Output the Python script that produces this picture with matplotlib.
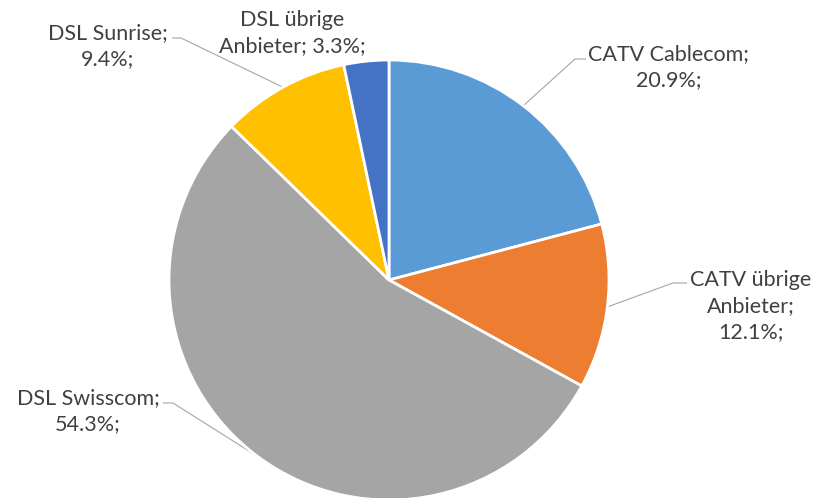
import numpy as np
import matplotlib
matplotlib.use("Agg")
import matplotlib.pyplot as plt

# ---- data ----
categories = ["CATV Cablecom", "CATV übrige\nAnbieter", "DSL Swisscom", "DSL Sunrise", "DSL übrige\nAnbieter"]
shares = [20.9, 12.1, 54.3, 9.4, 3.3]
colors = ["#5B9BD5", "#ED7D31", "#A5A5A5", "#FFC000", "#4472C4"]
label_texts = ["CATV Cablecom;\n20.9%;", "CATV übrige\nAnbieter;\n12.1%;",
               "DSL Swisscom;\n54.3%;", "DSL Sunrise;\n9.4%;", "DSL übrige\nAnbieter; 3.3%;"]

W, H = 817, 498
fig = plt.figure(figsize=(W / 100, H / 100), dpi=100)
ax = fig.add_axes([0, 0, 1, 1])

cx, cy, R = 389, H - 280, 220
wedges, _ = ax.pie(shares, colors=colors, startangle=90, counterclock=False,
                   center=(cx, cy), radius=R, frame=True,
                   wedgeprops=dict(edgecolor="white", linewidth=2))
ax.set_xlim(0, W)
ax.set_ylim(0, H)
ax.axis("off")

# layout: text centre (pixel coords, y down), elbow point, text-side end of horizontal stub
layout = [
    dict(pos=(669, 67), elbow=(575, 59), stub=(586, 59)),
    dict(pos=(751, 306), elbow=(673, 283), stub=(687, 283)),
    dict(pos=(88, 411), elbow=(173, 403), stub=(163, 403)),
    dict(pos=(108, 46), elbow=(181, 38), stub=(172, 38)),
    dict(pos=(292, 33), elbow=None, stub=None),
]

txtcol = "#404040"
linecol = "#A6A6A6"
for w, txt, lay in zip(wedges, label_texts, layout):
    x, y = lay["pos"]
    ax.text(x, H - y, txt, ha="center", va="center", fontsize=15.5,
            family="Lato", color=txtcol, linespacing=1.4)
    if lay["elbow"] is not None:
        mid = np.deg2rad((w.theta1 + w.theta2) / 2)
        px, py = cx + R * np.cos(mid), cy + R * np.sin(mid)
        ex, ey = lay["elbow"]
        sx, sy = lay["stub"]
        ax.plot([px, ex, sx], [py, H - ey, H - sy], color=linecol, lw=0.8,
                solid_capstyle="butt", zorder=0.5)

fig.savefig("out.png", dpi=100, facecolor="white")
